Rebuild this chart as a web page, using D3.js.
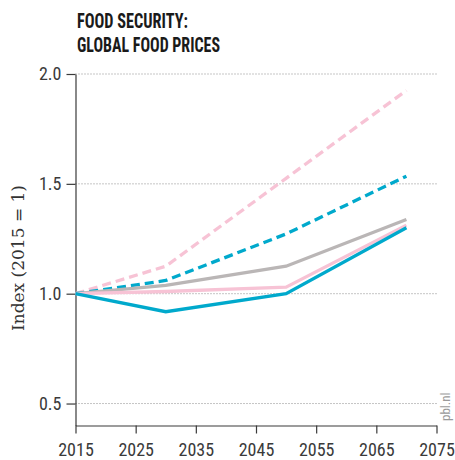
<!DOCTYPE html>
<html>
<head>
<meta charset="utf-8">
<script src="https://cdn.jsdelivr.net/npm/d3@7"></script>
<style>
  body { margin: 0; background: #fff; }
  svg { display: block; }
</style>
</head>
<body>
<svg width="455" height="460"></svg>
<script>
// food price index per scenario, 2015 = 1
const years = [2015, 2030, 2050, 2070];
const pinkDashed = [1.0, 1.125, 1.525, 1.925];
const blueDashed = [1.0, 1.06, 1.272, 1.535];
const greySolid = [1.0, 1.038, 1.125, 1.338];
const pinkSolid = [1.0, 1.01, 1.03, 1.312];
const blueSolid = [1.0, 0.918, 1.0, 1.3];

const xTicks = [2015, 2025, 2035, 2045, 2055, 2065, 2075];
const yTicks = [0.5, 1.0, 1.5, 2.0];

const series = [
  { values: pinkDashed, color: "#f7c3d5", dash: "9,5" },
  { values: blueDashed, color: "#00a9cc", dash: "9,5" },
  { values: greySolid, color: "#bab6b6", dash: null },
  { values: pinkSolid, color: "#f7c3d5", dash: null },
  { values: blueSolid, color: "#00a9cc", dash: null }
];

var svg = d3.select("svg");

var x = d3.scaleLinear().domain([2015, 2075]).range([75.5, 436.5]);
var y = d3.scaleLinear().domain([0.4, 2.0]).range([425.5, 74]);

var tickFont = "'Liberation Sans Narrow', 'Roboto Condensed', 'Liberation Sans', sans-serif";

// title
var title = svg.append("g")
    .attr("font-family", tickFont)
    .attr("font-weight", "bold")
    .attr("font-size", 20.5)
    .attr("fill", "#1a1a1a");
title.append("text").attr("x", 77).attr("y", 28)
    .attr("textLength", 111).attr("lengthAdjust", "spacingAndGlyphs")
    .text("FOOD SECURITY:");
title.append("text").attr("x", 77).attr("y", 52)
    .attr("textLength", 143).attr("lengthAdjust", "spacingAndGlyphs")
    .text("GLOBAL FOOD PRICES");

// grid lines
svg.append("g")
  .selectAll("line")
  .data(yTicks)
  .enter().append("line")
    .attr("x1", x(2015))
    .attr("x2", x(2075))
    .attr("y1", d => y(d))
    .attr("y2", d => y(d))
    .style("stroke", "#8a8a8a")
    .style("stroke-width", 1)
    .style("stroke-dasharray", "1,2");

// axes
var yAxis = svg.append("g")
    .attr("transform", "translate(" + x(2015) + ",0)")
    .call(d3.axisLeft(y).tickValues(yTicks).tickFormat(d3.format(".1f"))
      .tickSize(9).tickSizeOuter(0).tickPadding(5));

var xAxis = svg.append("g")
    .attr("transform", "translate(0," + y(0.4) + ")")
    .call(d3.axisBottom(x).tickValues(xTicks).tickFormat(d3.format("d"))
      .tickSize(8).tickSizeOuter(0).tickPadding(10));

[yAxis, xAxis].forEach(function(g) {
  g.select(".domain").style("stroke", "#3a3a3a").style("stroke-width", 1.2);
  g.selectAll(".tick line").style("stroke", "#3a3a3a").style("stroke-width", 1.2);
  g.selectAll(".tick text")
    .style("font-family", tickFont)
    .style("font-size", "18px")
    .style("fill", "#3a3a3a");
});

// y label
svg.append("text")
    .attr("transform", "translate(24,258) rotate(-90)")
    .attr("text-anchor", "middle")
    .style("font-family", "'DejaVu Serif', 'Liberation Serif', serif")
    .style("font-size", "17px")
    .style("fill", "#333")
    .text("Index (2015 = 1)");

// lines
var line = d3.line()
    .x((d, i) => x(years[i]))
    .y(d => y(d));

svg.append("g")
  .selectAll("path")
  .data(series)
  .enter().append("path")
    .attr("d", d => line(d.values))
    .style("fill", "none")
    .style("stroke", d => d.color)
    .style("stroke-width", 3.3)
    .style("stroke-dasharray", d => d.dash);

// source
svg.append("text")
    .attr("transform", "translate(450,421) rotate(-90)")
    .style("font-family", tickFont)
    .style("font-size", "13px")
    .style("fill", "#9a9a9a")
    .text("pbl.nl");
</script>
</body>
</html>
